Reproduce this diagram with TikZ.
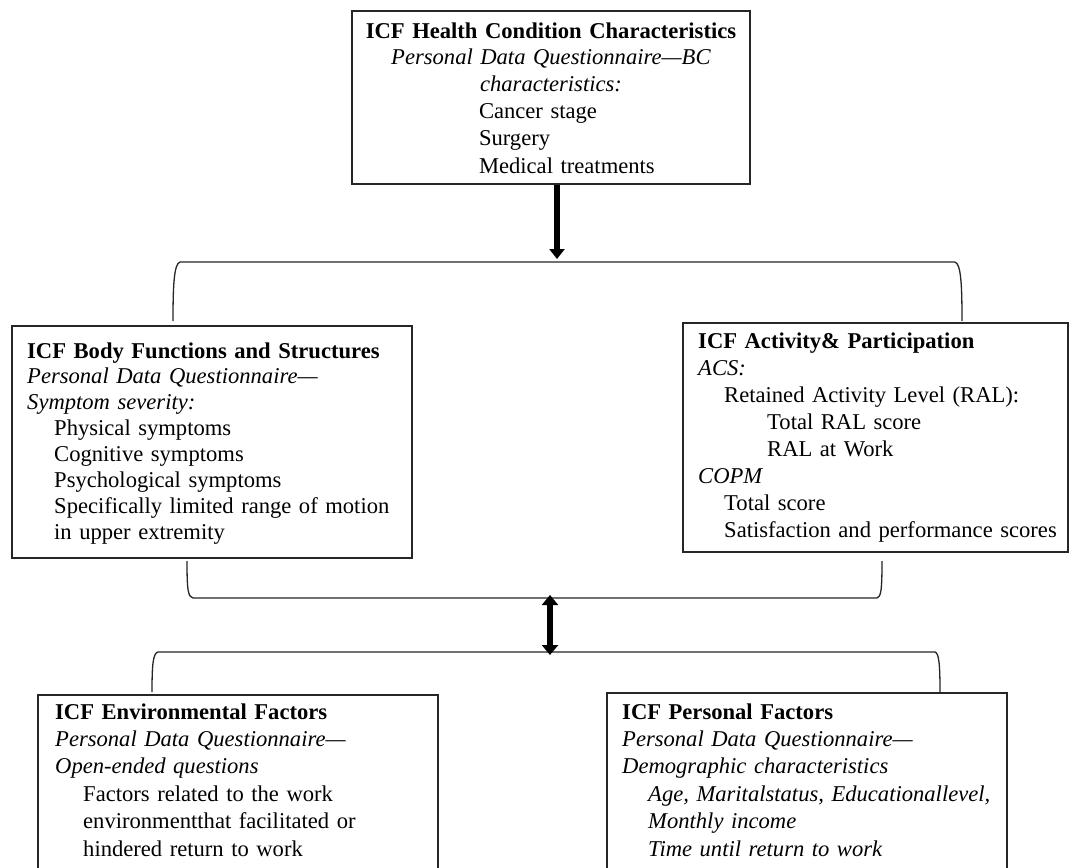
\documentclass[tikz,border=0pt]{standalone}
\usepackage{fontspec}
\setmainfont{Liberation Serif}
\usetikzlibrary{arrows.meta}
\begin{document}
\begin{tikzpicture}[x=1pt,y=-1pt,
  box/.style={draw=black!85, line width=1.3pt, rectangle, inner sep=0pt},
  txt/.style={inner sep=0pt, anchor=base west, align=left, text width=420pt,
    font=\fontsize{22.6}{#1}\selectfont},
  ctxt/.style={inner sep=0pt, anchor=base, align=center, text width=398pt,
    font=\fontsize{22.6}{#1}\selectfont},
  bracket/.style={draw=black!85, line width=1.3pt},
  bigarrow/.style={line width=6pt, -{Triangle[width=15pt,length=10pt]}},
  dblarrow/.style={line width=6pt, {Triangle[width=16pt,length=10pt]}-{Triangle[width=16pt,length=10pt]}}
]
\useasboundingbox (0,0) rectangle (1070,867);
\clip (0,0) rectangle (1070,867);
\fill[white] (0,0) rectangle (1070,867);

% boxes
\node[box, minimum width=398pt, minimum height=173pt] (hc) at (551,97.5) {};
\node[box, minimum width=400pt, minimum height=232pt] (bf) at (212,442) {};
\node[box, minimum width=385pt, minimum height=229pt] (ap) at (875.5,437.5) {};
\node[box, minimum width=400pt, minimum height=205pt] (ef) at (238,797.5) {};
\node[box, minimum width=400pt, minimum height=207pt] (pf) at (807,796.5) {};

% texts
\node[ctxt=27pt] (hct) at (551,38) {\textbf{ICF Health Condition Characteristics}\\
\textit{Personal Data Questionnaire---BC}\\
\textit{characteristics:}\\
\makebox[144pt][l]{Cancer stage}\\
\makebox[144pt][l]{Surgery}\\
\makebox[144pt][l]{Medical treatments}};

\node[txt=25.9pt] (bft) at (27,358) {\textbf{ICF Body Functions and Structures}\\
\textit{Personal Data Questionnaire---}\\
\textit{Symptom severity:}\\
\hspace*{27pt}Physical symptoms\\
\hspace*{27pt}Cognitive symptoms\\
\hspace*{27pt}Psychological symptoms\\
\hspace*{27pt}Specifically limited range of motion\\
\hspace*{27pt}in upper extremity};

\node[txt=27.1pt] (apt) at (698,348) {\textbf{ICF Activity\& Participation}\\
\textit{ACS:}\\
\hspace*{26pt}Retained Activity Level (RAL):\\
\hspace*{69pt}Total RAL score\\
\hspace*{69pt}RAL at Work\\
\textit{COPM}\\
\hspace*{26pt}Total score\\
\hspace*{26pt}Satisfaction and performance scores};

\node[txt=27.4pt] (eft) at (55,719) {\textbf{ICF Environmental Factors}\\
\textit{Personal Data Questionnaire---}\\
\textit{Open-ended questions}\\
\hspace*{28pt}Factors related to the work\\
\hspace*{28pt}environmentthat facilitated or\\
\hspace*{28pt}hindered return to work};

\node[txt=27.4pt] (pft) at (622,719) {\textbf{ICF Personal Factors}\\
\textit{Personal Data Questionnaire---}\\
\textit{Demographic characteristics}\\
\hspace*{26pt}\textit{Age, Maritalstatus, Educationallevel,}\\
\hspace*{26pt}\textit{Monthly income}\\
\hspace*{26pt}\textit{Time until return to work}};

% bracket coordinates
\coordinate (b1l) at (173,321);
\coordinate (b1r) at (962,321);
\coordinate (b1m) at (557,259);
\coordinate (b2l) at (187,561);
\coordinate (b2r) at (882,561);
\coordinate (b3l) at (152,692);
\coordinate (b3r) at (940,692);
\coordinate (dtop) at (550,595);
\coordinate (dbot) at (550,655);

% brackets
\draw[bracket] (b1l) .. controls (173,285) and (174,264) .. (180,262) -- (955,262)
  .. controls (961,264) and (962,285) .. (b1r);
\draw[bracket] (b2l) .. controls (187,590) and (188,597) .. (193,598) -- (877,598)
  .. controls (881,597) and (882,590) .. (b2r);
\draw[bracket] (b3l) .. controls (152,665) and (153,653) .. (158,652) -- (935,652)
  .. controls (939,653) and (940,665) .. (b3r);

% arrows
\draw[bigarrow] (hc.south -| b1m) -- (b1m);
\draw[dblarrow] (dtop) -- (dbot);
\end{tikzpicture}
\end{document}
